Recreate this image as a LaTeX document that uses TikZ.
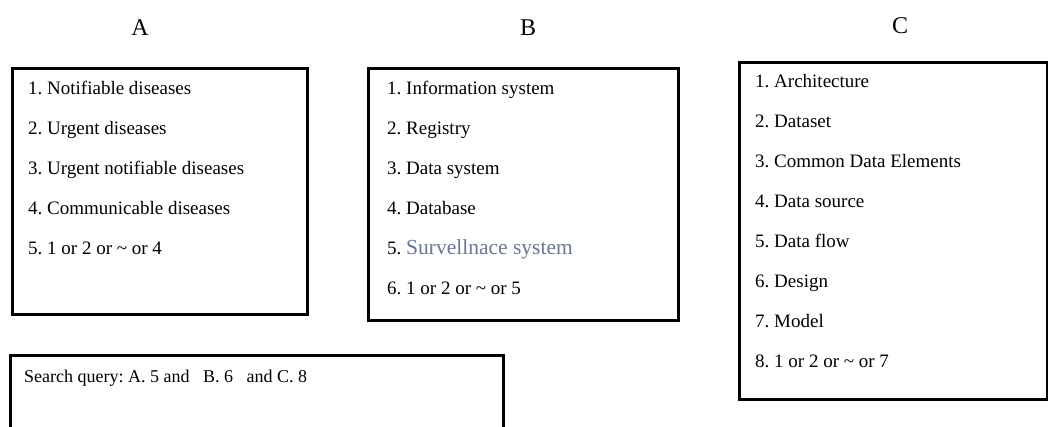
\documentclass[tikz,border=0pt]{standalone}
\usepackage{fontspec}
\setmainfont{Liberation Serif}
\usepackage{xcolor}
\usepackage{tikz}
\usetikzlibrary{positioning}
\frenchspacing
\definecolor{slateblue}{RGB}{105,118,148}
\tikzstyle{listbox} = [draw, line width=2.5pt, anchor=north west, inner sep=0pt]
\tikzstyle{item} = [anchor=base west, inner sep=0pt, font=\fontsize{19}{23}\selectfont]
\tikzstyle{head} = [anchor=base, inner sep=0pt, font=\fontsize{24}{28}\selectfont]

\begin{document}
\begin{tikzpicture}[x=1pt, y=-1pt]
    \clip (0,0) rectangle (1048,426);
    % column headings
    \node (hA) [head] at (140,35) {A};
    \node (hB) [head] at (528,35) {B};
    \node (hC) [head] at (900,33) {C};
    % box A
    \node (boxA) [listbox, minimum width=295pt, minimum height=246pt] at (11,67) {};
    \node (a1) [item] at (28,94) {1. Notifiable diseases};
    \node (a2) [item] at (28,134) {2. Urgent diseases};
    \node (a3) [item] at (28,174) {3. Urgent notifiable diseases};
    \node (a4) [item] at (28,214) {4. Communicable diseases};
    \node (a5) [item] at (28,254) {5. 1 or 2 or \textasciitilde{} or 4};
    % box B
    \node (boxB) [listbox, minimum width=310pt, minimum height=252pt] at (367,67) {};
    \node (b1) [item] at (387,94) {1. Information system};
    \node (b2) [item] at (387,134) {2. Registry};
    \node (b3) [item] at (387,174) {3. Data system};
    \node (b4) [item] at (387,214) {4. Database};
    \node (b5) [item] at (387,254) {5. {\fontsize{21.5}{25}\selectfont\textcolor{slateblue}{Survellnace system}}};
    \node (b6) [item] at (387,294) {6. 1 or 2 or \textasciitilde{} or 5};
    % box C
    \node (boxC) [listbox, minimum width=308pt, minimum height=337pt] at (738,61) {};
    \node (c1) [item] at (755,87) {1. Architecture};
    \node (c2) [item] at (755,127) {2. Dataset};
    \node (c3) [item] at (755,167) {3. Common Data Elements};
    \node (c4) [item] at (755,207) {4. Data source};
    \node (c5) [item] at (755,247) {5. Data flow};
    \node (c6) [item] at (755,287) {6. Design};
    \node (c7) [item] at (755,327) {7. Model};
    \node (c8) [item] at (755,367) {8. 1 or 2 or \textasciitilde{} or 7};
    % search query box
    \node (query) [listbox, minimum width=493pt, minimum height=100pt] at (9,354) {};
    \node (qtext) [item, font=\fontsize{18}{22}\selectfont] at (24,382) {Search query: A. 5 and\ \ \ B. 6\ \ \ and C. 8};
\end{tikzpicture}
\end{document}
